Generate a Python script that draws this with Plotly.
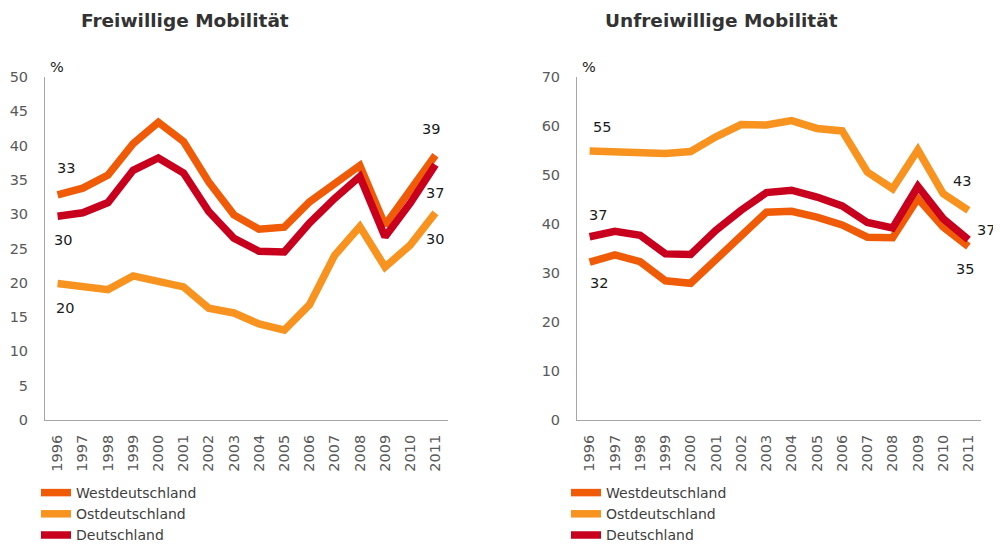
import plotly.graph_objects as go

years = [str(y) for y in range(1996, 2012)]

# Freiwillige Mobilität
frei_west = [32.8, 33.8, 35.7, 40.3, 43.4, 40.6, 34.7, 29.9, 27.8, 28.1, 31.8, 34.5, 37.1, 28.4, 33.3, 38.6]
frei_ost = [19.9, 19.5, 19.0, 21.0, 20.3, 19.4, 16.3, 15.6, 14.0, 13.1, 16.8, 24.0, 28.2, 22.3, 25.5, 30.2]
frei_de = [29.7, 30.2, 31.7, 36.4, 38.2, 36.0, 30.4, 26.5, 24.6, 24.5, 28.7, 32.3, 35.5, 26.7, 31.6, 37.2]

# Unfreiwillige Mobilität
unfrei_west = [32.2, 33.7, 32.3, 28.4, 27.9, 32.7, 37.3, 42.4, 42.6, 41.4, 39.8, 37.3, 37.2, 45.2, 39.4, 35.4]
unfrei_ost = [54.9, 54.7, 54.7, 54.4, 54.8, 57.8, 60.3, 60.2, 61.1, 59.5, 59.0, 50.6, 47.2, 55.1, 46.2, 42.8]
unfrei_de = [37.4, 38.5, 37.7, 33.9, 33.8, 38.7, 42.8, 46.4, 46.9, 45.5, 43.7, 40.3, 39.2, 47.7, 41.1, 36.8]

series_names = ["Westdeutschland", "Ostdeutschland", "Deutschland"]
colors = ["#F05B08", "#F7931E", "#C8001E"]

FONT = "DejaVu Sans"
TICK_COLOR = "#595959"

fig = go.Figure()

left = [frei_west, frei_ost, frei_de]
right = [unfrei_west, unfrei_ost, unfrei_de]

for name, vals, col in zip(series_names, left, colors):
    fig.add_trace(go.Scatter(x=years, y=vals, mode="lines", name=name,
                             line=dict(color=col, width=7.5), xaxis="x", yaxis="y",
                             legend="legend", hoverinfo="skip"))
for name, vals, col in zip(series_names, right, colors):
    fig.add_trace(go.Scatter(x=years, y=vals, mode="lines", name=name,
                             line=dict(color=col, width=7.5), xaxis="x2", yaxis="y2",
                             legend="legend2", hoverinfo="skip"))

W, H = 1001, 545
OFF = 8  # page body margin

def px_x(p):
    return (p - OFF) / W
def px_y(p):
    return (H - (p - OFF)) / H

ydom = [px_y(420), px_y(77)]

xaxis_common = dict(type="category", range=[-0.5, 15.5], showline=True, linecolor="#A6A6A6",
                    linewidth=1, showgrid=False, zeroline=False, tickangle=-90,
                    ticks="outside", ticklen=8, tickcolor="rgba(0,0,0,0)",
                    tickfont=dict(family=FONT, size=14.5, color=TICK_COLOR), fixedrange=True)
yaxis_common = dict(showline=True, linecolor="#A6A6A6", linewidth=1, showgrid=False,
                    zeroline=False, ticks="outside", ticklen=13, tickcolor="rgba(0,0,0,0)",
                    tickfont=dict(family=FONT, size=14.5, color=TICK_COLOR), fixedrange=True)

fig.update_layout(
    width=W, height=H,
    margin=dict(l=0, r=0, t=0, b=0, autoexpand=False),
    paper_bgcolor="white", plot_bgcolor="white",
    xaxis=dict(domain=[px_x(45), px_x(448)], anchor="y", **xaxis_common),
    yaxis=dict(domain=ydom, anchor="x", range=[0, 50], dtick=5, **yaxis_common),
    xaxis2=dict(domain=[px_x(577), px_x(981)], anchor="y2", **xaxis_common),
    yaxis2=dict(domain=ydom, anchor="x2", range=[0, 70], dtick=10, **yaxis_common),
    legend=dict(x=px_x(36), y=px_y(477), xanchor="left", yanchor="top",
                font=dict(family=FONT, size=14, color="#404040"), tracegroupgap=0,
                bgcolor="rgba(0,0,0,0)"),
    legend2=dict(x=px_x(566), y=px_y(477), xanchor="left", yanchor="top",
                 font=dict(family=FONT, size=14, color="#404040"), tracegroupgap=0,
                 bgcolor="rgba(0,0,0,0)"),
    showlegend=True,
)

annots = []
# Titles
annots.append(dict(text="<b>Freiwillige Mobilität</b>", x=px_x(185), y=px_y(20), xref="paper", yref="paper",
                   xanchor="center", yanchor="middle", showarrow=False,
                   font=dict(family=FONT, size=18.5, color="#333333")))
annots.append(dict(text="<b>Unfreiwillige Mobilität</b>", x=px_x(721), y=px_y(20), xref="paper", yref="paper",
                   xanchor="center", yanchor="middle", showarrow=False,
                   font=dict(family=FONT, size=18.5, color="#333333")))
# Percent signs
for xr, yr in (("x domain", "y domain"), ("x2 domain", "y2 domain")):
    annots.append(dict(text="%", x=0, y=1, xref=xr, yref=yr, xanchor="center", yanchor="middle",
                       xshift=12, yshift=10, showarrow=False,
                       font=dict(family=FONT, size=14.5, color="#1A1A1A")))

def lab(xref, yref, idx, vals, xs, ys):
    v = vals[idx]
    return dict(text=str(int(v + 0.5)), x=idx, y=v, xref=xref, yref=yref,
                xanchor="center", yanchor="middle",
                xshift=xs, yshift=ys, showarrow=False,
                font=dict(family=FONT, size=14.5, color="#1A1A1A"))

annots += [
    lab("x", "y", 0, frei_west, 8, 27),
    lab("x", "y", 0, frei_de, 5, -24),
    lab("x", "y", 0, frei_ost, 7, -25),
    lab("x", "y", 15, frei_west, -4, 26),
    lab("x", "y", 15, frei_de, 0, -28),
    lab("x", "y", 15, frei_ost, 0, -26),
    lab("x2", "y2", 0, unfrei_ost, 12, 24),
    lab("x2", "y2", 0, unfrei_de, 8, 22),
    lab("x2", "y2", 0, unfrei_west, 9, -21),
    lab("x2", "y2", 15, unfrei_ost, -6, 29),
    lab("x2", "y2", 15, unfrei_de, 18, 10),
    lab("x2", "y2", 15, unfrei_west, -3, -22),
]
fig.update_layout(annotations=annots)

fig.write_html("out.html")
